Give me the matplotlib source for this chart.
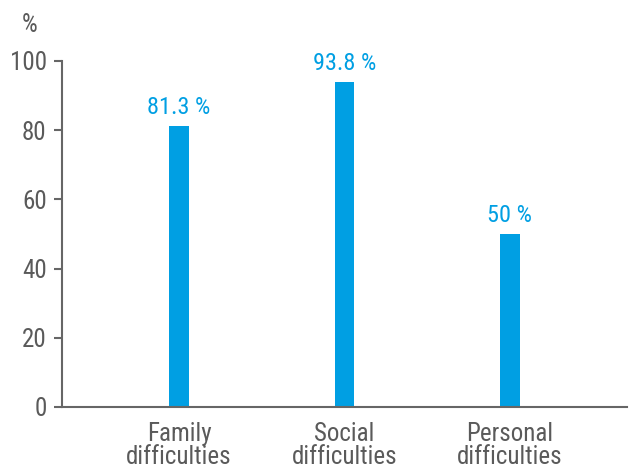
import matplotlib
matplotlib.use("Agg")
import matplotlib.pyplot as plt

categories = ["Family\ndifficulties", "Social\ndifficulties", "Personal\ndifficulties"]
values = [81.3, 93.8, 50]
value_labels = ["81.3 %", "93.8 %", "50 %"]
yticks = [0, 20, 40, 60, 80, 100]

plt.rcParams['font.family'] = ['Roboto Condensed', 'Liberation Sans Narrow', 'DejaVu Sans']

bar_color = "#009fe3"
text_gray = "#5a5a5a"
axis_gray = "#666666"

fig = plt.figure(figsize=(6.29, 4.75), dpi=100)
ax = fig.add_axes([0.0986, 0.1432, 0.8982, 0.7284])

x = list(range(len(categories)))
ax.bar(x, values, width=0.12, color=bar_color, zorder=2)
for xi, v, lab in zip(x, values, value_labels):
    ax.annotate(lab, (xi, v), xytext=(0, 5), textcoords="offset points",
                ha="center", va="bottom", color=bar_color, fontsize=17.5)

ax.set_xlim(-0.707, 2.707)
ax.set_ylim(0, 100)
ax.set_yticks(yticks)
ax.set_yticklabels([str(t) for t in yticks], fontsize=18, color=text_gray)
ax.set_xticks(x)
ax.set_xticklabels(categories, fontsize=18, color=text_gray, linespacing=0.95)
ax.tick_params(axis="x", length=0, pad=11)
ax.tick_params(axis="y", length=6, width=1.5, color=axis_gray, pad=5, direction="out")

for side in ("top", "right"):
    ax.spines[side].set_visible(False)
for side in ("left", "bottom"):
    ax.spines[side].set_color(axis_gray)
    ax.spines[side].set_linewidth(1.5)

fig.text(22 / 629, 1 - 25 / 475, "%", fontsize=18, color=text_gray, ha="left", va="center")

fig.savefig("out.png", dpi=100)
